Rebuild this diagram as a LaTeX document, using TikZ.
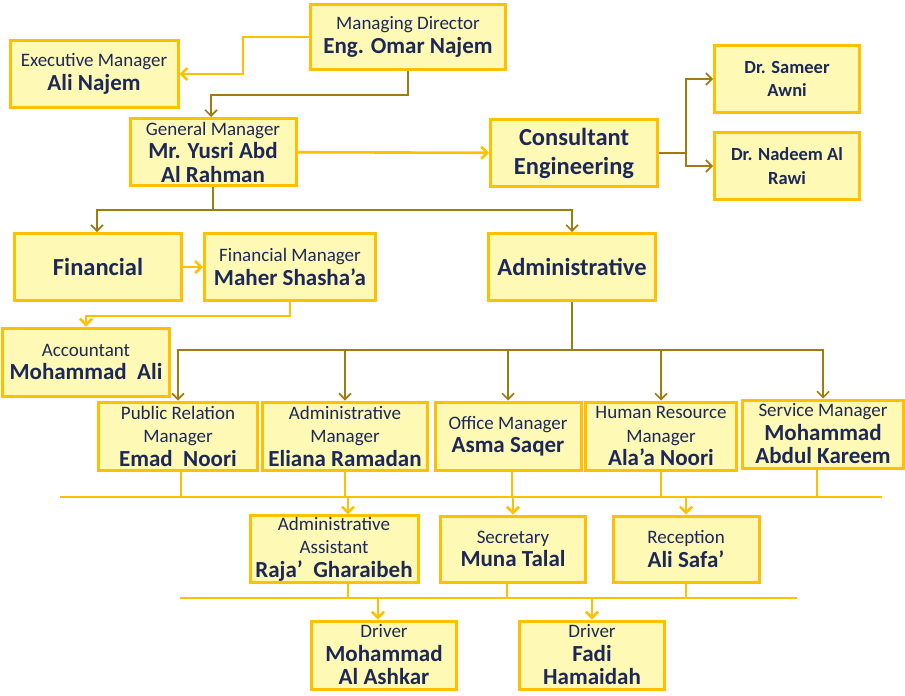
\documentclass[tikz,border=0pt]{standalone}
\usepackage{fontspec}
\setmainfont{Carlito}
\usetikzlibrary{arrows.meta}
\definecolor{gold}{HTML}{FFC000}
\definecolor{pale}{HTML}{FEF9B5}
\definecolor{navy}{HTML}{1C2859}
\definecolor{olive}{HTML}{A07C10}
\newcommand{\ttl}[1]{{\fontsize{19}{23}\selectfont #1}}
\newcommand{\nme}[1]{{\fontsize{23}{23}\selectfont\bfseries #1}}
\newcommand{\drn}[1]{{\fontsize{18.5}{22}\selectfont\bfseries #1}}

\begin{document}
\begin{tikzpicture}[
    x=1pt, y=-1pt,
    punkt/.style = {rectangle, draw=gold, fill=pale, line width=3pt, text=navy,
                    align=center, inner sep=1pt, minimum height=67pt,
                    font=\fontsize{19}{23.5}\selectfont},
    big/.style = {font=\fontsize{24.5}{29}\selectfont\bfseries},
    pil/.style = {gold, line width=2.6pt, -{Straight Barb[length=6pt,width=12pt]}},
    lin/.style = {gold, line width=2.6pt},
    dark/.style = {draw=olive, line width=1.6pt}
    ]
  \useasboundingbox (0,0) rectangle (905,696);

  \node[punkt, minimum width=195pt, minimum height=65pt] (md) at (408,37) {\ttl{Managing Director}\\\nme{Eng. Omar Najem}};
  \node[punkt, minimum width=168pt] (exec) at (94,74) {\ttl{Executive Manager}\\\nme{Ali Najem}};
  \node[punkt, minimum width=166pt] (gm) at (213,152) {\ttl{General Manager}\\\nme{Mr. Yusri Abd}\\\nme{Al Rahman}};
  \node[punkt, minimum width=167pt, big] (cons) at (574,153) {Consultant\\Engineering};
  \node[punkt, minimum width=145pt] (sameer) at (787,79) {\drn{Dr. Sameer}\\\drn{Awni}};
  \node[punkt, minimum width=145pt] (nadeem) at (787,166) {\drn{Dr. Nadeem Al}\\\drn{Rawi}};

  \node[punkt, minimum width=167pt, big] (fin) at (98,267) {Financial};
  \node[punkt, minimum width=171pt] (finmgr) at (290,267) {\ttl{Financial Manager}\\\nme{Maher Shasha’a}};
  \node[punkt, minimum width=167pt, big] (admin) at (572,267) {Administrative};
  \node[punkt, minimum width=167pt, minimum height=68pt] (acc) at (86,362) {\ttl{Accountant}\\\nme{Mohammad\ \ Ali}};

  \node[punkt, minimum width=159pt, minimum height=68pt] (pr) at (178,436) {\ttl{Public Relation}\\\ttl{Manager}\\\nme{Emad\ \ Noori}};
  \node[punkt, minimum width=165pt, minimum height=68pt] (admmgr) at (345,436) {\ttl{Administrative}\\\ttl{Manager}\\\nme{Eliana Ramadan}};
  \node[punkt, minimum width=146pt, minimum height=68pt] (office) at (508,436) {\ttl{Office Manager}\\\nme{Asma Saqer}};
  \node[punkt, minimum width=151pt, minimum height=68pt] (hr) at (661,436) {\ttl{Human Resource}\\\ttl{Manager}\\\nme{Ala’a Noori}};
  \node[punkt, minimum width=161pt, minimum height=68pt] (serv) at (823,434) {\ttl{Service Manager}\\\nme{Mohammad}\\\nme{Abdul Kareem}};

  \node[punkt, minimum width=168pt, minimum height=66pt] (asst) at (334,549) {\ttl{Administrative}\\\ttl{Assistant}\\\nme{Raja’\ \ Gharaibeh}};
  \node[punkt, minimum width=145pt, minimum height=66pt] (secr) at (513,549) {\ttl{Secretary}\\\nme{Muna\ Talal}};
  \node[punkt, minimum width=146pt, minimum height=66pt] (recep) at (686,549) {\ttl{Reception}\\\nme{Ali Safa’}};

  \node[punkt, minimum width=145pt, minimum height=68pt] (drv1) at (384,655) {\ttl{Driver}\\\nme{Mohammad}\\\nme{Al Ashkar}};
  \node[punkt, minimum width=145pt, minimum height=68pt] (drv2) at (592,655) {\ttl{Driver}\\\nme{Fadi}\\\nme{Hamaidah}};

  % bus lines
  \coordinate (b1l) at (60,497);  \coordinate (b1r) at (882,497);
  \coordinate (b2l) at (180,598); \coordinate (b2r) at (797,598);
  \draw[lin] (b1l) -- (b1r);
  \draw[lin] (b2l) -- (b2r);

  \draw[pil] (md.west) -- ++(-66,0) |- (exec.east);
  \draw[pil, dark] (md.south) |- (211,95) -- (gm.north -| 211,0);
  \draw[pil] (gm) -- (cons);
  \draw[pil, dark] (cons.east) -- ++(27,0) |- (sameer.west);
  \draw[pil, dark] (cons.east) -- ++(27,0) |- (nadeem.west);
  \draw[pil, dark] (gm.south) |- (97,210) -- (fin.north -| 97,0);
  \draw[pil, dark] (gm.south) |- (admin.north |- 0,210) -- (admin.north);
  \draw[pil] (fin) -- (finmgr);
  \draw[pil] (finmgr.south) |- (86,316) -- (acc.north);

  \foreach \n in {pr,admmgr,office,hr,serv}
    \draw[pil, dark] (admin.south) |- (\n.north |- 0,350) -- (\n.north);
  \foreach \n/\x in {pr/181,admmgr/345,office/512,hr/661,serv/817}
    \draw[lin] (\n.south -| \x,0) -- (\x,497);
  \foreach \n/\x in {asst/348,secr/513,recep/686}
    \draw[pil] (\x,497) -- (\n.north -| \x,0);
  \foreach \n/\x in {asst/348,secr/507,recep/686}
    \draw[lin] (\n.south -| \x,0) -- (\x,598);
  \foreach \n/\x in {drv1/378,drv2/592}
    \draw[pil] (\x,598) -- (\n.north -| \x,0);
\end{tikzpicture}
\end{document}
